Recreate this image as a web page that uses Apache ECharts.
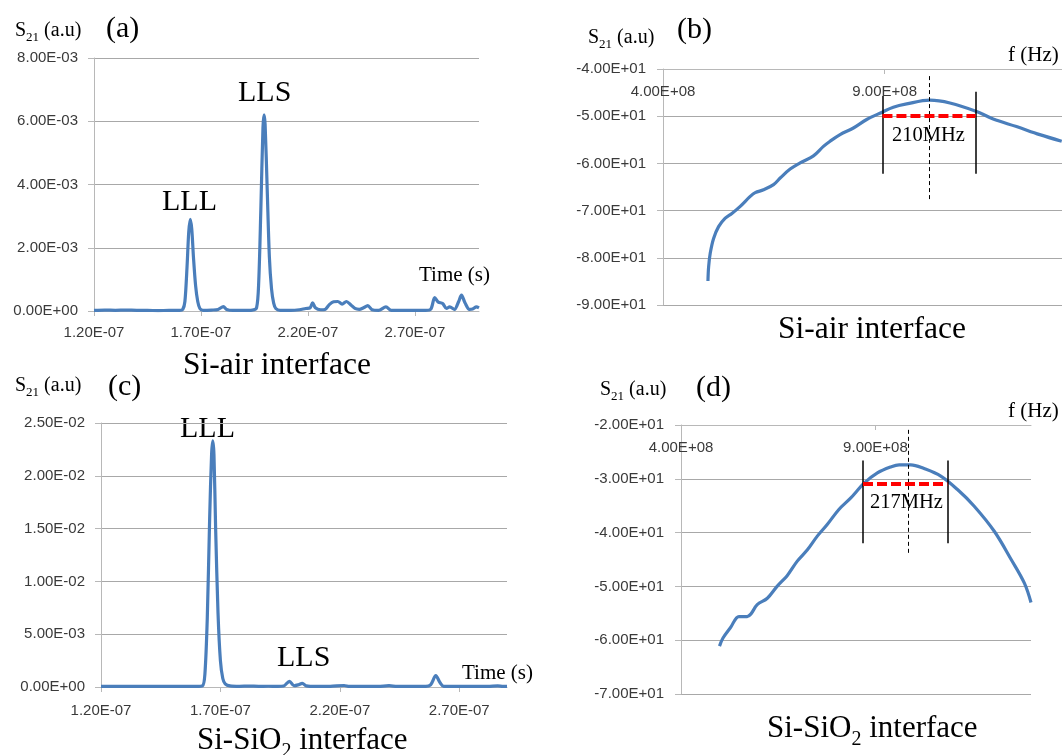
<!DOCTYPE html>
<html>
<head>
<meta charset="utf-8">
<title>S21 time and frequency response</title>
<script src="https://cdn.jsdelivr.net/npm/echarts@6/dist/echarts.min.js"></script>
<style>
  html, body { margin: 0; padding: 0; background: #fff; }
  #chart { width: 1062px; height: 755px; }
</style>
</head>
<body>
<div id="chart"></div>
<script>
// ---- (a) Si-air interface, time response: time in ns, S21 in a.u.
const timeA = [120, 125, 130, 135, 140, 145, 150, 155, 160, 161.5, 162.5, 163.5, 164.3, 165, 165.7, 166.5, 167.5, 168.5, 169.5,
  171, 175, 178, 180.5, 182, 185, 190, 194, 196, 197, 198, 199, 199.5, 200, 201, 202, 203, 204, 205, 207, 212, 216, 219, 221,
  222.2, 223.5, 226, 228, 230, 232, 234, 236, 238, 240, 242, 244, 246, 248, 250, 253, 256.5, 259, 265, 270, 275, 277.5, 279.3,
  281, 283, 284.8, 286.3, 288.5, 290.5, 291.8, 293.5, 295.5, 297, 298.8, 300];
const s21A = [2e-5, 3e-5, 2e-5, 3e-5, 2e-5, 2e-5, 1e-5, 2e-5, 2e-5, 5e-5, 3e-4, 1.4e-3, 2.5e-3, 2.9e-3, 2.6e-3, 1.7e-3, 8e-4, 3e-4, 8e-5,
  2e-5, 3e-5, 5e-5, 1.4e-4, 5e-5, 2e-5, 2e-5, 3e-5, 1e-4, 9e-4, 3.2e-3, 5.8e-3, 6.2e-3, 5.9e-3, 3.8e-3, 1.7e-3, 7e-4, 2.5e-4, 8e-5, 2e-5, 2e-5, 4e-5, 8e-5, 1e-4,
  2.6e-4, 1e-4, 4e-5, 5e-5, 2e-4, 2.9e-4, 3e-4, 2.2e-4, 3e-4, 2e-4, 8e-5, 5e-5, 1e-4, 1.7e-4, 4e-5, 2e-5, 1.3e-4, 2e-5, 2e-5, 2e-5, 2e-5, 6e-5, 4.2e-4,
  2.8e-4, 2.4e-4, 8e-5, 1.3e-4, 5e-5, 3e-4, 5e-4, 2.5e-4, 5e-5, 6e-5, 1.3e-4, 1e-4];

// ---- (c) Si-SiO2 interface, time response
const timeC = [120, 130, 140, 150, 160, 162.5, 163.5, 164.5, 165.5, 166.3, 166.8, 167.3, 168, 169, 170, 171, 172, 174, 178, 182,
  186, 190, 194, 196.5, 198.9, 200.8, 202.5, 204.3, 206, 210, 216, 221.8, 224, 230, 236, 240.6, 244, 250, 256, 258, 260.2, 262,
  263.5, 270, 276, 282, 286.1, 288, 290];
const s21C = [6e-5, 5e-5, 6e-5, 5e-5, 5e-5, 1e-4, 1.2e-3, 6.5e-3, 1.6e-2, 2.2e-2, 2.33e-2, 2.2e-2, 1.5e-2, 7e-3, 2.5e-3, 8e-4, 3e-4, 1e-4, 6e-5, 9e-5,
  6e-5, 7e-5, 6e-5, 1e-4, 5.4e-4, 1.2e-4, 2e-4, 3.5e-4, 1e-4, 5e-5, 6e-5, 1.4e-4, 5e-5, 6e-5, 5e-5, 1.3e-4, 5e-5, 6e-5, 6e-5, 2e-4, 1.07e-3, 4e-4,
  6e-5, 5e-5, 6e-5, 5e-5, 1e-4, 6e-5, 5e-5];

// ---- (b) Si-air interface, frequency response: frequency in MHz, S21 in dB
const freqB = [501.4, 502.9, 506.6, 514.1, 525.4, 540.4, 555.4, 574.2, 596.7, 608, 626.7, 649.3, 664.3, 686.8, 709.3, 739.4,
  761.9, 776.9, 799.4, 829.5, 859.5, 893.3, 919.5, 949.6, 1002.1, 1047.2, 1107.3, 1144.8, 1197.3, 1249.9, 1299.4];
const s21B = [-84.9, -81.9, -79.0, -75.9, -73.4, -71.6, -70.6, -69.1, -67.0, -66.2, -65.6, -64.5, -63.1, -61.2, -59.9, -58.4,
  -56.4, -55.3, -53.9, -52.5, -50.7, -49.2, -48.1, -47.4, -46.6, -47.2, -49.0, -50.6, -52.2, -53.9, -55.3];

// ---- (d) Si-SiO2 interface, frequency response
const freqD = [499, 508, 527, 549, 570, 580, 596, 622, 647, 673, 699, 725, 750, 776, 806, 836, 871, 905, 939, 961, 991,
  1025, 1068, 1111, 1154, 1206, 1249, 1283, 1300];
const s21D = [-61.1, -59.6, -57.7, -55.6, -55.6, -55.1, -53.4, -52.2, -50.0, -48.0, -45.3, -43.2, -40.7, -38.5, -35.7, -33.6, -30.8, -28.9, -27.8, -27.4, -27.4,
  -28.1, -29.5, -32.0, -35.1, -39.8, -45.0, -49.4, -53.0];

// ---- tick values
const timeTicksA = [120, 170, 220, 270];
const timeTicksC = [120, 170, 220, 270];
const freqTicks = [400, 900];

// ---- bandwidth markers (MHz, dB)
const bwB = { low: 895, width: 210, peak: 1000.5, level: -50, label: '210MHz' };
const bwD = { low: 868, width: 217, peak: 984, level: -31, label: '217MHz' };

// ---- helpers
function sci(v) {
  const parts = Number(v).toExponential(2).split('e');
  const n = parseInt(parts[1], 10);
  return parts[0] + 'E' + (n < 0 ? '-' : '+') + String(Math.abs(n)).padStart(2, '0');
}
const pairs = (xs, ys) => xs.map((x, i) => [x, ys[i]]);

const SANS = '"Liberation Sans", Arial, sans-serif';
const SERIF = '"Liberation Serif", "Times New Roman", serif';
const GRID_GRAY = '#a8a8a8';
const AXIS_GRAY = '#b8b8b8';
const LABEL_GRAY = '#3a3a3a';
const BLUE = '#4a7ebb';

const measureCtx = document.createElement('canvas').getContext('2d');
function textWidth(text, size) {
  measureCtx.font = size + 'px ' + SERIF;
  return measureCtx.measureText(text).width;
}
// serif text placed by its left edge and alphabetic baseline
function txt(x, base, text, size) {
  return {
    type: 'text', x: x, y: base - 0.3375 * size, silent: true,
    style: { text: text, font: size + 'px ' + SERIF, fill: '#000', align: 'left', verticalAlign: 'middle' }
  };
}
// text with a subscript part: main + sub + rest
function subTxt(x, base, main, sub, rest, size, subSize, drop) {
  const w1 = textWidth(main, size);
  const w2 = textWidth(sub, subSize);
  return [
    txt(x, base, main, size),
    txt(x + w1, base + drop, sub, subSize),
    txt(x + w1 + w2, base, rest, size)
  ];
}

function timeXAxis(gi, max, ticks, margin) {
  return {
    gridIndex: gi, type: 'value', min: 120, max: max, position: 'bottom',
    axisLine: { show: true, onZero: false, lineStyle: { color: AXIS_GRAY, width: 1 } },
    axisTick: { show: true, length: 5, customValues: ticks, lineStyle: { color: AXIS_GRAY } },
    axisLabel: { customValues: ticks, formatter: v => sci(v * 1e-9), margin: margin, fontFamily: SANS, fontSize: 15, color: LABEL_GRAY },
    splitLine: { show: false }
  };
}
function freqXAxis(gi) {
  return {
    gridIndex: gi, type: 'value', min: 400, max: 1300, position: 'top',
    axisLine: { show: true, onZero: false, lineStyle: { color: AXIS_GRAY, width: 1 } },
    axisTick: { show: true, inside: true, length: 5, customValues: freqTicks, lineStyle: { color: AXIS_GRAY } },
    axisLabel: { inside: true, customValues: freqTicks, formatter: v => sci(v * 1e6), margin: 15, fontFamily: SANS, fontSize: 15, color: LABEL_GRAY },
    splitLine: { show: false }
  };
}
function valueYAxis(gi, min, max, interval, margin) {
  return {
    gridIndex: gi, type: 'value', min: min, max: max, interval: interval,
    axisLine: { show: true, onZero: false, lineStyle: { color: AXIS_GRAY, width: 1 } },
    axisTick: { show: true, length: 6, lineStyle: { color: AXIS_GRAY } },
    axisLabel: { formatter: v => sci(v), margin: margin, fontFamily: SANS, fontSize: 15, color: LABEL_GRAY },
    splitLine: { show: true, lineStyle: { color: GRID_GRAY, width: 1 } }
  };
}
function curve(xi, xs, ys, smooth) {
  return {
    type: 'line', xAxisIndex: xi, yAxisIndex: xi, data: pairs(xs, ys),
    showSymbol: false, smooth: smooth,
    lineStyle: { color: BLUE, width: 3.2 }, itemStyle: { color: BLUE }
  };
}
// bandwidth marker lines: two solid verticals, a dashed centre line and a red dashed level
function bandMarks(bw, leftSpan, rightSpan, centreSpan) {
  const high = bw.low + bw.width;
  const solid = { color: '#000', width: 1.5, type: 'solid' };
  return {
    silent: true, symbol: ['none', 'none'], animation: false,
    label: { show: false },
    data: [
      [{ coord: [bw.low, leftSpan[0]], lineStyle: solid }, { coord: [bw.low, leftSpan[1]] }],
      [{ coord: [high, rightSpan[0]], lineStyle: solid }, { coord: [high, rightSpan[1]] }],
      [{ coord: [bw.peak, centreSpan[0]], lineStyle: { color: '#000', width: 1, type: [4, 3] } }, { coord: [bw.peak, centreSpan[1]] }],
      [{ coord: [bw.low, bw.level], lineStyle: { color: '#ff0000', width: 4, type: [10, 4] } }, { coord: [high, bw.level] }]
    ]
  };
}

const seriesB = curve(1, freqB, s21B, 0.35);
seriesB.markLine = bandMarks(bwB, [-45.7, -62.2], [-44.8, -62.2], [-41.5, -67.7]);
const seriesD = curve(3, freqD, s21D, 0.35);
seriesD.markLine = bandMarks(bwD, [-26.6, -42.0], [-26.6, -42.0], [-20.9, -43.8]);

const texts = [].concat(
  // (a)
  subTxt(15, 37, 'S', '21', ' (a.u)', 20, 13, 5),
  [txt(106, 39, '(a)', 30), txt(238, 103, 'LLS', 30), txt(162, 212, 'LLL', 30),
   txt(419, 283, 'Time (s)', 21), txt(183, 376, 'Si-air interface', 31.5)],
  // (b)
  subTxt(588, 44, 'S', '21', ' (a.u)', 20, 13, 5),
  [txt(677, 40, '(b)', 30), txt(1008, 63, 'f (Hz)', 21), txt(892, 143, bwB.label, 20.5),
   txt(778, 340, 'Si-air interface', 31.5)],
  // (c)
  subTxt(15, 392, 'S', '21', ' (a.u)', 20, 13, 5),
  [txt(108, 397, '(c)', 30), txt(180, 439, 'LLL', 30), txt(277, 668, 'LLS', 30),
   txt(462, 681, 'Time (s)', 21)],
  subTxt(197, 751, 'Si-SiO', '2', ' interface', 31, 20, 7),
  // (d)
  subTxt(600, 396, 'S', '21', ' (a.u)', 20, 13, 5),
  [txt(696, 398, '(d)', 30), txt(1008, 419, 'f (Hz)', 21), txt(870, 510, bwD.label, 20.5)],
  subTxt(767, 739, 'Si-SiO', '2', ' interface', 31, 20, 7)
);

const chart = echarts.init(document.getElementById('chart'), null, { renderer: 'canvas' });
chart.setOption({
  animation: false,
  backgroundColor: '#ffffff',
  grid: [
    { left: 94, top: 58, width: 385, height: 253 },
    { left: 663, top: 69, width: 399, height: 236 },
    { left: 101, top: 423, width: 406, height: 264 },
    { left: 681, top: 425, width: 350, height: 269 }
  ],
  xAxis: [
    timeXAxis(0, 300, timeTicksA, 14),
    freqXAxis(1),
    timeXAxis(2, 290, timeTicksC, 16),
    freqXAxis(3)
  ],
  yAxis: [
    valueYAxis(0, 0, 0.008, 0.002, 16),
    valueYAxis(1, -90, -40, 10, 17),
    valueYAxis(2, 0, 0.025, 0.005, 16),
    valueYAxis(3, -70, -20, 10, 17)
  ],
  series: [
    curve(0, timeA, s21A, 0.3),
    seriesB,
    curve(2, timeC, s21C, 0.3),
    seriesD
  ],
  graphic: texts
});
</script>
</body>
</html>
